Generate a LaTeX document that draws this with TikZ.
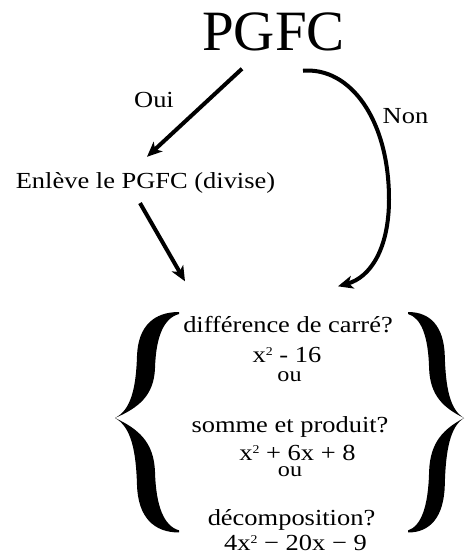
\documentclass[tikz,border=0pt]{standalone}
\usepackage{fontspec}
\setmainfont{Liberation Serif}[FakeStretch=1.15]
\newfontfamily\plainserif{Liberation Serif}
\usetikzlibrary{arrows.meta}
\newcommand\myhalfbrace{(64,-106) .. controls (39,-106) and (23,-92) .. (22,-62) .. controls (21,-30) and (16,-8) .. (0,0) .. controls (23,-10) and (39,-22) .. (40,-50) .. controls (41,-82) and (49,-100) .. (64,-104) -- cycle}
\newcommand\sq{\raisebox{7pt}{\fontsize{12}{12}\selectfont 2}}
\begin{document}
\begin{tikzpicture}[x=1pt,y=-1pt,
  txt/.style={inner sep=0pt, anchor=base, font=\fontsize{23}{23}\selectfont},
  small/.style={inner sep=0pt, anchor=base, font=\fontsize{21}{21}\selectfont},
  arr/.style={line width=4pt, -{Stealth[length=15pt,width=13pt,inset=4pt]}},
  bracefill/.style={fill=black}]
\useasboundingbox (0,0) rectangle (466,560);
\node[inner sep=0pt, anchor=base, font=\plainserif\fontsize{57}{57}\selectfont] (pgfc) at (273.5,50) {PGFC};
\node[txt] (oui) at (154,107) {Oui};
\node[txt] (non) at (405.5,123) {Non};
\node[txt] (enl) at (145.5,188) {Enlève le PGFC (divise)};
\node[txt] (q1) at (288,332) {différence de carré?};
\node[txt] (e1) at (287,362) {x\sq{} - 16};
\node[small] (o1) at (289.5,381) {ou};
\node[txt] (q2) at (290,432) {somme et produit?};
\node[txt] (e2) at (297.5,460) {x\sq{} + 6x + 8};
\node[small] (o2) at (290,476) {ou};
\node[txt] (q3) at (291.5,525) {décomposition?};
\node[txt] (e3) at (295.5,550) {4x\sq{} − 20x − 9};
% braces
\begin{scope}[shift={(115,418)}]
  \fill[bracefill] \myhalfbrace;
  \begin{scope}[yscale=-1.08]\fill[bracefill] \myhalfbrace;\end{scope}
\end{scope}
\begin{scope}[shift={(464,418)}, xscale=-0.873]
  \fill[bracefill] \myhalfbrace;
  \begin{scope}[yscale=-1.08]\fill[bracefill] \myhalfbrace;\end{scope}
\end{scope}
% connectors
\draw[arr] ([shift={(-31.5,18)}]pgfc.south) -- ([shift={(1.5,-15)}]enl.north);
\draw[arr] ([shift={(-5.5,10)}]enl.south) -- ([shift={(-103,-34.3)}]q1.north);
\draw[arr] ([shift={(29.5,20)}]pgfc.south) .. controls +(47,-4) and +(0,-80) .. ([shift={(101,-116.3)}]q1.north) .. controls +(0,50) and +(32,-9) .. ([shift={(50,-29.3)}]q1.north);
\end{tikzpicture}
\end{document}
